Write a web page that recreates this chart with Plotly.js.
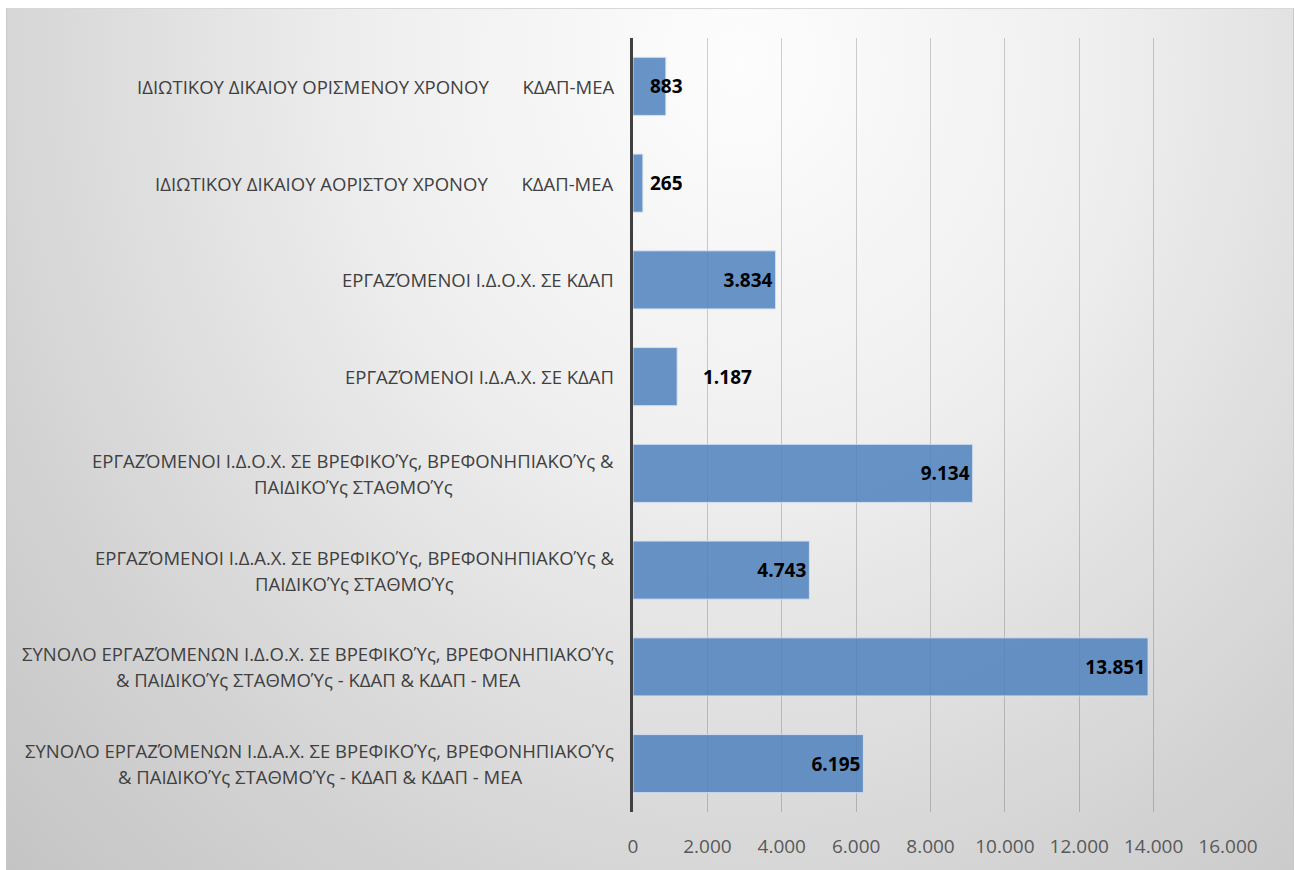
<!DOCTYPE html>
<html>
<head>
<meta charset="utf-8">
<script src="https://cdn.plot.ly/plotly-3.0.1.min.js"></script>
<style>
  html, body { margin: 0; padding: 0; background: #ffffff; }
  #frame {
    position: absolute; left: 6px; top: 8px; width: 1286px; height: 870px;
    background: radial-gradient(ellipse farthest-corner at 57% 6%, #fdfdfd 0%, #efefef 35%, #d3d3d3 75%, #c4c4c4 100%);
    border-top: 1px solid #d8d8d8; border-left: 1px solid #c8c8c8; border-right: 1px solid #c8c8c8;
  }
  #chart { position: absolute; left: 0; top: 0; width: 1295px; height: 870px; }
</style>
</head>
<body>
<div id="frame"></div>
<div id="chart"></div>
<script>
const categories = [
  'ΙΔΙΩΤΙΚΟΥ ΔΙΚΑΙΟΥ ΟΡΙΣΜΕΝΟΥ ΧΡΟΝΟΥ\u00a0\u00a0\u00a0\u00a0\u00a0\u00a0\u00a0ΚΔΑΠ-ΜΕΑ',
  'ΙΔΙΩΤΙΚΟΥ ΔΙΚΑΙΟΥ ΑΟΡΙΣΤΟΥ ΧΡΟΝΟΥ\u00a0\u00a0\u00a0\u00a0\u00a0\u00a0\u00a0ΚΔΑΠ-ΜΕΑ',
  'ΕΡΓΑΖΌΜΕΝΟΙ Ι.Δ.Ο.Χ. ΣΕ ΚΔΑΠ',
  'ΕΡΓΑΖΌΜΕΝΟΙ Ι.Δ.Α.Χ. ΣΕ ΚΔΑΠ',
  'ΕΡΓΑΖΌΜΕΝΟΙ Ι.Δ.Ο.Χ. ΣΕ ΒΡΕΦΙΚΟΎς, ΒΡΕΦΟΝΗΠΙΑΚΟΎς &\nΠΑΙΔΙΚΟΎς ΣΤΑΘΜΟΎς',
  'ΕΡΓΑΖΌΜΕΝΟΙ Ι.Δ.Α.Χ. ΣΕ ΒΡΕΦΙΚΟΎς, ΒΡΕΦΟΝΗΠΙΑΚΟΎς &\nΠΑΙΔΙΚΟΎς ΣΤΑΘΜΟΎς',
  'ΣΥΝΟΛΟ ΕΡΓΑΖΌΜΕΝΩΝ Ι.Δ.Ο.Χ. ΣΕ ΒΡΕΦΙΚΟΎς, ΒΡΕΦΟΝΗΠΙΑΚΟΎς\n& ΠΑΙΔΙΚΟΎς ΣΤΑΘΜΟΎς - ΚΔΑΠ & ΚΔΑΠ - ΜΕΑ',
  'ΣΥΝΟΛΟ ΕΡΓΑΖΌΜΕΝΩΝ Ι.Δ.Α.Χ. ΣΕ ΒΡΕΦΙΚΟΎς, ΒΡΕΦΟΝΗΠΙΑΚΟΎς\n& ΠΑΙΔΙΚΟΎς ΣΤΑΘΜΟΎς - ΚΔΑΠ & ΚΔΑΠ - ΜΕΑ'
];
const values = [883, 265, 3834, 1187, 9134, 4743, 13851, 6195];
const tickValues = [0, 2000, 4000, 6000, 8000, 10000, 12000, 14000, 16000];
const tickLabels = ['0', '2.000', '4.000', '6.000', '8.000', '10.000', '12.000', '14.000', '16.000'];

// label placement style (not data): inside end of bar, next to axis, or beyond bar end
const labelMode = ['axis', 'axis', 'inside', 'outside', 'inside', 'inside', 'inside', 'inside'];

const fmt = v => String(v).replace(/\B(?=(\d{3})+(?!\d))/g, '.');

const catFont = { family: 'Open Sans, Noto Sans, sans-serif', size: 18.5, color: '#404040' };
const lblFont = { family: 'Open Sans, Noto Sans, sans-serif', size: 19, color: '#000000', weight: 'bold' };

const ctx = document.createElement('canvas').getContext('2d');
ctx.font = catFont.size + 'px "Open Sans"';

const annotations = [];
categories.forEach((c, i) => {
  const lines = c.split('\n');
  const widths = lines.map(l => ctx.measureText(l).width);
  const maxW = Math.max.apply(null, widths);
  const lh = 26;
  lines.forEach((l, k) => {
    annotations.push({
      xref: 'paper', x: 0, yref: 'y', y: c,
      text: l, showarrow: false,
      xanchor: 'center', xshift: -19 - maxW / 2,
      yanchor: 'middle', yshift: ((lines.length - 1) / 2 - k) * lh,
      font: catFont
    });
  });
  if (labelMode[i] === 'axis') {
    annotations.push({ xref: 'x', x: 0, yref: 'y', y: c, text: '<b>' + fmt(values[i]) + '</b>',
      showarrow: false, xanchor: 'left', xshift: 15, yanchor: 'middle', font: lblFont });
  } else if (labelMode[i] === 'outside') {
    annotations.push({ xref: 'x', x: values[i], yref: 'y', y: c, text: '<b>' + fmt(values[i]) + '</b>',
      showarrow: false, xanchor: 'left', xshift: 24, yanchor: 'middle', font: lblFont });
  }
});

const trace = {
  type: 'bar', orientation: 'h',
  x: values, y: categories,
  text: values.map((v, i) => labelMode[i] === 'inside' ? fmt(v) : ''),
  textposition: 'inside', insidetextanchor: 'end', textangle: 0,
  insidetextfont: lblFont,
  marker: { color: 'rgba(79,129,189,0.85)', line: { color: 'rgba(215,226,242,0.9)', width: 1 } },
  hoverinfo: 'skip', cliponaxis: false
};

const layout = {
  width: 1295, height: 870,
  margin: { l: 633, r: 67, t: 38, b: 58 },
  paper_bgcolor: 'rgba(0,0,0,0)', plot_bgcolor: 'rgba(0,0,0,0)',
  separators: ',.',
  showlegend: false,
  bargap: 0.4,
  xaxis: {
    range: [0, 16000], tickvals: tickValues, ticktext: tickLabels,
    showgrid: true, gridcolor: 'rgba(0,0,0,0.18)', gridwidth: 1,
    zeroline: false, showline: false, ticks: '',
    ticklabelstandoff: 21,
    tickfont: { family: 'Open Sans, Noto Sans, sans-serif', size: 19, color: '#595959' },
    fixedrange: true
  },
  yaxis: {
    type: 'category', autorange: 'reversed',
    showticklabels: false, ticks: '', showgrid: false, zeroline: false,
    showline: true, linecolor: '#404040', linewidth: 3,
    fixedrange: true
  },
  annotations: annotations
};

Plotly.newPlot('chart', [trace], layout, { displayModeBar: false, staticPlot: true });
</script>
</body>
</html>
